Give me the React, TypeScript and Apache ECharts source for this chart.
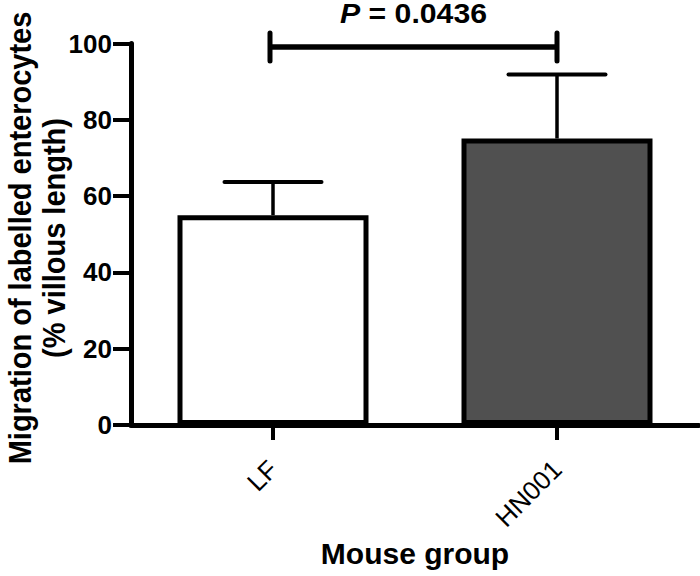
import React, { useEffect, useRef } from "react";
import * as echarts from "echarts";

const categories = ["LF", "HN001"];
const means = [55.0, 75.1];
const upperErrors = [63.7, 91.9];
const barFills = ["#ffffff", "#505050"];
const yMin = 0;
const yMax = 100;
const yInterval = 20;
const bracketFrom = 0;
const bracketTo = 1;
const bracketLevel = 99.1;
const pLabelItalic = "P";
const pLabelRest = " = 0.0436";
const yTitleLines = ["Migration of labelled enterocytes", "(% villous length)"];
const xTitle = "Mouse group";

const FONT = "'Liberation Sans', Arial, Helvetica, sans-serif";

export default function App() {
  const ref = useRef<HTMLDivElement>(null);
  useEffect(() => {
    if (!ref.current) return;
    const chart = echarts.init(ref.current, undefined, { renderer: "svg" });
    const option: any = {
      animation: false,
      backgroundColor: "#ffffff",
      grid: { left: 131, right: 1, top: 43.5, bottom: 151, containLabel: false },
      xAxis: {
        type: "category",
        data: categories,
        name: xTitle,
        nameLocation: "middle",
        nameGap: 112,
        nameTextStyle: { fontFamily: FONT, fontSize: 30, fontWeight: "bold", color: "#000" },
        axisLine: { show: true, lineStyle: { color: "#000", width: 5 } },
        axisTick: { show: true, alignWithLabel: true, length: 15, lineStyle: { color: "#000", width: 4 } },
        axisLabel: { rotate: 45, margin: 40, fontFamily: FONT, fontSize: 26, color: "#000" },
        splitLine: { show: false },
      },
      yAxis: {
        type: "value",
        min: yMin,
        max: yMax,
        interval: yInterval,
        axisLine: { show: true, lineStyle: { color: "#000", width: 5 } },
        axisTick: { show: true, length: 18, lineStyle: { color: "#000", width: 4 } },
        axisLabel: { margin: 19, fontFamily: FONT, fontSize: 26, fontWeight: "bold", color: "#000" },
        splitLine: { show: false },
      },
      graphic: [
        {
          type: "text",
          x: 19.5,
          y: 238,
          rotation: Math.PI / 2,
          scaleY: 1.1,
          style: {
            text: yTitleLines[0],
            font: `bold 29px ${FONT}`,
            fill: "#000",
            textAlign: "center",
            textVerticalAlign: "middle",
          },
        },
        {
          type: "text",
          x: 53,
          y: 238,
          rotation: Math.PI / 2,
          scaleY: 1.1,
          style: {
            text: yTitleLines[1],
            font: `bold 29px ${FONT}`,
            fill: "#000",
            textAlign: "center",
            textVerticalAlign: "middle",
          },
        },
      ],
      series: [
        {
          type: "bar",
          barWidth: 191,
          data: means.map((v, i) => ({
            value: v,
            itemStyle: { color: barFills[i], borderColor: "#000", borderWidth: 5 },
          })),
          z: 3,
        },
        {
          type: "custom",
          z: 2,
          clip: false,
          encode: { x: 0, y: [1, 2] },
          data: means.map((m, i) => [i, m, upperErrors[i]]),
          renderItem: (params: any, api: any) => {
            const base = api.coord([api.value(0), api.value(1)]);
            const top = api.coord([api.value(0), api.value(2)]);
            const half = 48.5;
            return {
              type: "group",
              children: [
                {
                  type: "line",
                  shape: { x1: base[0], y1: base[1], x2: top[0], y2: top[1] },
                  style: { stroke: "#000", lineWidth: 3.5 },
                },
                {
                  type: "line",
                  shape: { x1: top[0] - half, y1: top[1], x2: top[0] + half, y2: top[1] },
                  style: { stroke: "#000", lineWidth: 4, lineCap: "round" },
                },
              ],
            };
          },
        },
        {
          type: "custom",
          z: 4,
          clip: false,
          encode: { x: [0, 1], y: 2 },
          data: [[bracketFrom, bracketTo, bracketLevel]],
          renderItem: (params: any, api: any) => {
            const a = api.coord([api.value(0), api.value(2)]);
            const b = api.coord([api.value(1), api.value(2)]);
            const left = a[0] - 3;
            const right = b[0];
            const tick = 14;
            return {
              type: "group",
              children: [
                {
                  type: "line",
                  shape: { x1: left, y1: a[1], x2: right, y2: b[1] },
                  style: { stroke: "#000", lineWidth: 5.5 },
                },
                {
                  type: "line",
                  shape: { x1: left, y1: a[1] - tick, x2: left, y2: a[1] + tick },
                  style: { stroke: "#000", lineWidth: 5, lineCap: "round" },
                },
                {
                  type: "line",
                  shape: { x1: right, y1: b[1] - tick, x2: right, y2: b[1] + tick },
                  style: { stroke: "#000", lineWidth: 5, lineCap: "round" },
                },
                {
                  type: "text",
                  x: (left + right) / 2,
                  y: a[1] - 33,
                  scaleX: 1.12,
                  style: {
                    text: `{i|${pLabelItalic}}{r|${pLabelRest}}`,
                    textAlign: "center",
                    textVerticalAlign: "middle",
                    fill: "#000",
                    rich: {
                      i: { fontFamily: FONT, fontSize: 27, fontWeight: "bold", fontStyle: "italic", fill: "#000" },
                      r: { fontFamily: FONT, fontSize: 27, fontWeight: "bold", fill: "#000" },
                    },
                  },
                },
              ],
            };
          },
        },
      ],
    };
    chart.setOption(option);
    return () => chart.dispose();
  }, []);
  return (
    <div
      ref={ref}
      style={{ position: "absolute", left: 0, top: 0, width: 700, height: 576 }}
    />
  );
}
